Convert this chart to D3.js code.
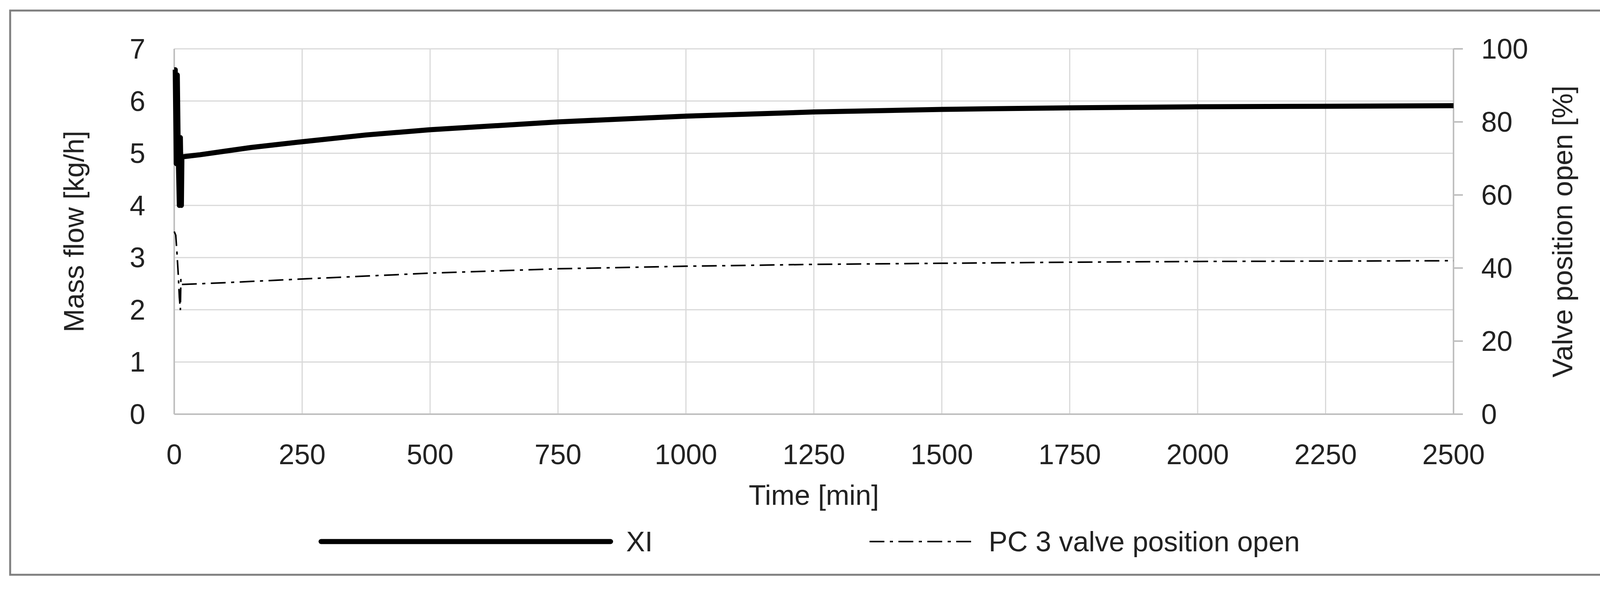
<!DOCTYPE html>
<html><head><meta charset="utf-8">
<script src="https://cdn.jsdelivr.net/npm/d3@7"></script>
<style>body{margin:0;background:#fff}svg{display:block;font-family:Arial,"Liberation Sans",sans-serif}</style>
</head><body><svg id="chart" width="4157" height="1510"></svg>
<script>
// Time in minutes, XI mass flow in kg/h
var xiTime = [0, 2, 4, 6, 8, 10, 12, 14, 15, 50, 100, 150, 250, 375, 500, 750, 1000, 1250, 1500, 1750, 2000, 2250, 2500];
var xiFlow = [6.6, 6.6, 4.8, 6.5, 4.9, 4.0, 5.3, 4.0, 4.93, 4.97, 5.04, 5.11, 5.22, 5.35, 5.45, 5.6, 5.71, 5.79, 5.84, 5.87, 5.89, 5.9, 5.91];
// PC 3 valve position in %
var valveTime = [0, 3, 5, 8, 10, 12, 13, 15, 100, 250, 500, 750, 1000, 1250, 1500, 1750, 2000, 2500];
var valveOpen = [50, 49, 45, 38, 32, 28.5, 37, 35.5, 36, 37, 38.6, 39.8, 40.5, 41, 41.3, 41.6, 41.8, 42];
var xTicks = [0, 250, 500, 750, 1000, 1250, 1500, 1750, 2000, 2250, 2500];
var leftTicks = [0, 1, 2, 3, 4, 5, 6, 7];
var rightTicks = [0, 20, 40, 60, 80, 100];

var svg = d3.select('#chart');
var L = 446, R = 3721, T = 125, B = 1060;
var fs = 72;

svg.append('rect').attr('x', 26).attr('y', 27).attr('width', 4109).attr('height', 1444)
  .attr('fill', 'none').attr('stroke', '#7f7f7f').attr('stroke-width', 5);

var x = d3.scaleLinear().domain([0, 2500]).range([L, R]);
var yL = d3.scaleLinear().domain([0, 7]).range([B, T]);
var yR = d3.scaleLinear().domain([0, 100]).range([B, T]);

// grid
svg.append('g').selectAll('line').data(xTicks).join('line')
  .attr('x1', d => x(d)).attr('x2', d => x(d)).attr('y1', T).attr('y2', B)
  .attr('stroke', '#d9d9d9').attr('stroke-width', 3);
svg.append('g').selectAll('line').data(leftTicks).join('line')
  .attr('x1', L).attr('x2', R).attr('y1', d => yL(d)).attr('y2', d => yL(d))
  .attr('stroke', '#d9d9d9').attr('stroke-width', 3);

// axes lines
svg.append('line').attr('x1', L).attr('x2', R).attr('y1', B).attr('y2', B).attr('stroke', '#bfbfbf').attr('stroke-width', 4);
svg.append('line').attr('x1', L).attr('x2', L).attr('y1', T).attr('y2', B).attr('stroke', '#bfbfbf').attr('stroke-width', 4);
svg.append('line').attr('x1', R).attr('x2', R).attr('y1', T).attr('y2', B).attr('stroke', '#bfbfbf').attr('stroke-width', 4);
svg.append('g').selectAll('line').data(rightTicks).join('line')
  .attr('x1', R).attr('x2', R + 24).attr('y1', d => yR(d)).attr('y2', d => yR(d))
  .attr('stroke', '#bfbfbf').attr('stroke-width', 4);

// tick labels
svg.append('g').selectAll('text').data(xTicks).join('text')
  .attr('x', d => x(d)).attr('y', 1188).attr('text-anchor', 'middle')
  .attr('font-size', fs).attr('fill', '#222').text(d => d);
svg.append('g').selectAll('text').data(leftTicks).join('text')
  .attr('x', 372).attr('y', d => yL(d) + 25).attr('text-anchor', 'end')
  .attr('font-size', fs).attr('fill', '#222').text(d => d);
svg.append('g').selectAll('text').data(rightTicks).join('text')
  .attr('x', 3792).attr('y', d => yR(d) + 25).attr('text-anchor', 'start')
  .attr('font-size', fs).attr('fill', '#222').text(d => d);

// titles
svg.append('text').attr('transform', 'translate(214,' + (T + B) / 2 + ') rotate(-90)')
  .attr('text-anchor', 'middle').attr('font-size', fs).attr('fill', '#222').text('Mass flow [kg/h]');
svg.append('text').attr('transform', 'translate(4025,' + (T + B) / 2 + ') rotate(-90)')
  .attr('text-anchor', 'middle').attr('font-size', fs).attr('fill', '#222').text('Valve position open [%]');
svg.append('text').attr('x', (L + R) / 2).attr('y', 1292).attr('text-anchor', 'middle')
  .attr('font-size', fs).attr('fill', '#222').text('Time [min]');

// series
var xiLine = d3.line().x((d, i) => x(xiTime[i])).y(d => yL(d));
svg.append('path').attr('d', xiLine(xiFlow)).attr('fill', 'none')
  .attr('stroke', '#000').attr('stroke-width', 13).attr('stroke-linejoin', 'round');
var vLine = d3.line().x((d, i) => x(valveTime[i])).y(d => yR(d));
var dashDot = '38,14,8,14';
svg.append('path').attr('d', vLine(valveOpen)).attr('fill', 'none')
  .attr('stroke', '#000').attr('stroke-width', 4).attr('stroke-dasharray', dashDot);

// legend
var ly = 1386;
svg.append('line').attr('x1', 822).attr('x2', 1563).attr('y1', ly).attr('y2', ly)
  .attr('stroke', '#000').attr('stroke-width', 13).attr('stroke-linecap', 'round');
svg.append('text').attr('x', 1603).attr('y', ly + 25).attr('font-size', fs).attr('fill', '#222').text('XI');
svg.append('line').attr('x1', 2226).attr('x2', 2491).attr('y1', ly).attr('y2', ly)
  .attr('stroke', '#000').attr('stroke-width', 4).attr('stroke-dasharray', dashDot);
svg.append('text').attr('x', 2531).attr('y', ly + 25).attr('font-size', fs).attr('fill', '#222').text('PC 3 valve position open');
</script></body></html>
